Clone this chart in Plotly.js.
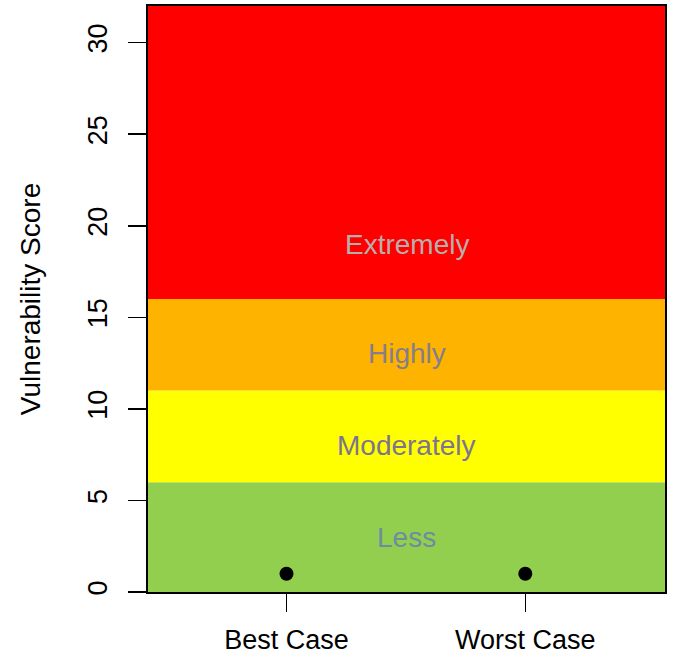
<!DOCTYPE html>
<html>
<head>
<meta charset="utf-8">
<script src="https://cdn.plot.ly/plotly-3.0.1.min.js"></script>
<style>html,body{margin:0;padding:0;background:#fff;}#chart{width:673px;height:659px;}</style>
</head>
<body>
<div id="chart"></div>
<script>
// Data
var categories = ["Best Case", "Worst Case"];
var scores = [1, 1];

var bandLow = [0, 6, 11, 16];
var bandHigh = [6, 11, 16, 32];
var bandColors = ["#92CF4F", "#FFFF00", "#FDB300", "#FF0000"];
var bandLabels = ["Less", "Moderately", "Highly", "Extremely"];
var bandLabelY = [3, 8, 13, 19];
var bandLabelColors = ["#6E8CA0", "#7C7490", "#857E8C", "#B8AEAC"];

var yTicks = [0, 5, 10, 15, 20, 25, 30];

var shapes = bandLow.map(function (lo, i) {
  return {
    type: "rect", xref: "paper", yref: "y",
    x0: 0, x1: 1, y0: lo, y1: bandHigh[i],
    fillcolor: bandColors[i], line: {width: 0}, layer: "below"
  };
});

var annotations = bandLabels.map(function (t, i) {
  return {
    xref: "paper", yref: "y", x: 0.5, y: bandLabelY[i],
    text: t, showarrow: false,
    font: {family: "Arial, 'Liberation Sans', sans-serif", size: 28, color: bandLabelColors[i]}
  };
});

var trace = {
  x: categories, y: scores, type: "scatter", mode: "markers",
  marker: {color: "#000000", size: 14},
  hoverinfo: "skip", showlegend: false
};

var layout = {
  width: 673, height: 659,
  margin: {l: 148, r: 8, t: 6, b: 67},
  paper_bgcolor: "#ffffff", plot_bgcolor: "#ffffff",
  font: {family: "Arial, 'Liberation Sans', sans-serif", color: "#000000"},
  showlegend: false,
  shapes: shapes,
  annotations: annotations,
  xaxis: {
    type: "category", range: [-0.58, 1.585],
    showgrid: false, zeroline: false,
    showline: true, mirror: true, linecolor: "#000000", linewidth: 2,
    ticks: "outside", ticklen: 18, tickwidth: 1.5, tickcolor: "#000000",
    tickfont: {size: 27, color: "#000000"},
    ticklabelstandoff: 5
  },
  yaxis: {
    range: [0, 32],
    tickvals: yTicks, ticktext: yTicks.map(String),
    tickangle: -90,
    showgrid: false, zeroline: false,
    showline: true, mirror: true, linecolor: "#000000", linewidth: 2,
    ticks: "outside", ticklen: 18, tickwidth: 1.5, tickcolor: "#000000",
    tickfont: {size: 27, color: "#000000"},
    ticklabelstandoff: 10,
    title: {text: "Vulnerability Score", font: {size: 28, color: "#000000"}, standoff: 34}
  }
};

Plotly.newPlot("chart", [trace], layout, {staticPlot: true, displayModeBar: false});
</script>
</body>
</html>
